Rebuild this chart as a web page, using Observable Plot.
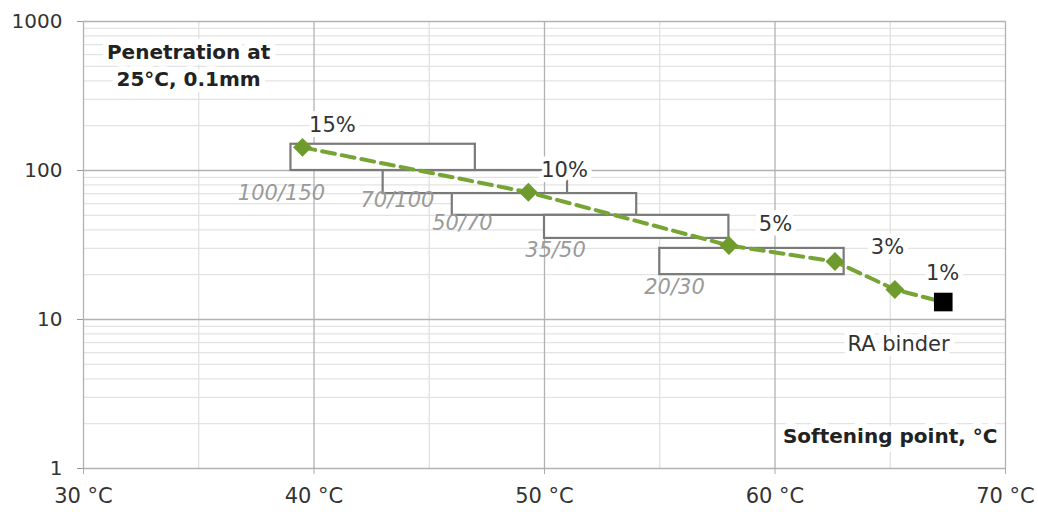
<!DOCTYPE html>
<html><head><meta charset="utf-8">
<script src="https://cdn.jsdelivr.net/npm/d3@7"></script>
<script src="https://cdn.jsdelivr.net/npm/@observablehq/plot@0.6"></script>
<style>body{margin:0;background:#fff}</style>
</head><body><div id="chart"></div>
<script>
// Penetration grade boxes
const grades = ["100/150", "70/100", "50/70", "35/50", "20/30"];
const penMin = [100, 70, 50, 35, 20];
const penMax = [150, 100, 70, 50, 30];
const spMin = [39, 43, 46, 50, 55];
const spMax = [47, 51, 54, 58, 63];
const gradeLabelSp = [38.59, 43.62, 46.44, 50.48, 55.64];
const gradeLabelPen = [70.2, 63.0, 44.1, 29.0, 16.4];

// Blends with increasing RA share
const blendShare = ["15%", "10%", "5%", "3%", "1%"];
const blendSp = [39.5, 49.3, 58.0, 62.6, 65.2];
const blendPen = [143, 71.4, 31.4, 24.5, 15.9];
const shareLabelSp = [40.8, 50.87, 60.02, 64.88, 67.27];
const shareLabelPen = [200, 100, 43.4, 30.4, 20.4];

// RA binder
const raName = "RA binder";
const raSp = [67.3];
const raPen = [13.1];
const raLabelSp = [65.36];
const raLabelPen = [6.8];

// Axes
const xTicks = [30, 40, 50, 60, 70];
const xMinorTicks = [35, 45, 55, 65];
const yTicks = [1, 10, 100, 1000];
const yMinorTicks = [2, 3, 4, 5, 6, 7, 8, 9, 20, 30, 40, 50, 60, 70, 80, 90, 200, 300, 400, 500, 600, 700, 800, 900];

const yTitle = "Penetration at\n25°C, 0.1mm";
const yTitleSp = [34.56], yTitlePen = [518.6];
const xTitle = "Softening point, °C";
const xTitleSp = [69.65], xTitlePen = [1.64];

const boxes = grades.map((g, i) => ({grade: g, x1: spMin[i], x2: spMax[i], y1: penMin[i], y2: penMax[i], lx: gradeLabelSp[i], ly: gradeLabelPen[i]}));
const blends = blendShare.map((s, i) => ({share: s, sp: blendSp[i], pen: blendPen[i], lx: shareLabelSp[i], ly: shareLabelPen[i]}));
const ra = [{name: raName, sp: raSp[0], pen: raPen[0], lx: raLabelSp[0], ly: raLabelPen[0]}];
const linePts = blends.map(d => ({sp: d.sp, pen: d.pen})).concat(ra.map(d => ({sp: d.sp, pen: d.pen})));

const green = "#6f9b2e";

const chart = Plot.plot({
  width: 1038, height: 512,
  marginLeft: 83, marginRight: 33, marginTop: 21, marginBottom: 44,
  x: {domain: [30, 70]},
  y: {type: "log", domain: [1, 1000]},
  style: {fontFamily: "DejaVu Sans", fontSize: "20px", color: "#333", background: "#fff", overflow: "visible"},
  marks: [
    Plot.ruleY(yMinorTicks, {stroke: "#e3e3e3", strokeWidth: 1.2}),
    Plot.ruleX(xMinorTicks, {stroke: "#dedede", strokeWidth: 1.2}),
    Plot.ruleY(yTicks, {stroke: "#b2b2b2", strokeWidth: 1.3}),
    Plot.ruleX(xTicks, {stroke: "#b2b2b2", strokeWidth: 1.3}),
    Plot.axisY({ticks: yTicks, tickSize: 6, tickPadding: 15, tickFormat: d => String(d), stroke: "#999", fill: "#333", fontSize: 20, label: null}),
    Plot.axisX({ticks: xTicks, tickSize: 6, tickPadding: 14, tickFormat: d => `${d} °C`, stroke: "#aaa", fill: "#333", fontSize: 21, label: null}),
    Plot.rect(boxes, {filter: d => d.grade === "70/100" || d.grade === "20/30", x1: "x1", x2: "x2", y1: "y1", y2: "y2", fill: "none", stroke: "#7a7a7a", strokeWidth: 2.2}),
    Plot.rect(boxes, {filter: d => !(d.grade === "70/100" || d.grade === "20/30"), x1: "x1", x2: "x2", y1: "y1", y2: "y2", fill: "white", stroke: "#7a7a7a", strokeWidth: 2.2}),
    Plot.text(boxes, {x: "lx", y: "ly", text: "grade", fontStyle: "italic", fill: "#9a9a9a", fontSize: 21}),
    Plot.line(linePts, {x: "sp", y: "pen", stroke: "#76a536", strokeWidth: 4, strokeDasharray: "13,7"}),
    Plot.dot(blends, {x: "sp", y: "pen", symbol: "diamond2", r: 8.5, fill: green, stroke: "none"}),
    Plot.dot(ra, {x: "sp", y: "pen", symbol: "square", r: 10.5, fill: "#000", stroke: "none"}),
    Plot.text(blends, {x: "lx", y: "ly", text: "share", fill: "#333", fontSize: 21, stroke: "white", strokeWidth: 10}),
    Plot.text(ra, {x: "lx", y: "ly", text: "name", fill: "#333", fontSize: 21, stroke: "white", strokeWidth: 10}),
    Plot.text([yTitle], {x: yTitleSp, y: yTitlePen, text: d => d, fontWeight: "bold", fontSize: 20, lineHeight: 1.35, fill: "#222", stroke: "white", strokeWidth: 12}),
    Plot.text([xTitle], {x: xTitleSp, y: xTitlePen, text: d => d, textAnchor: "end", fontWeight: "bold", fontSize: 20, fill: "#222", stroke: "white", strokeWidth: 12})
  ]
});
document.getElementById("chart").appendChild(chart);
</script>
</body></html>
